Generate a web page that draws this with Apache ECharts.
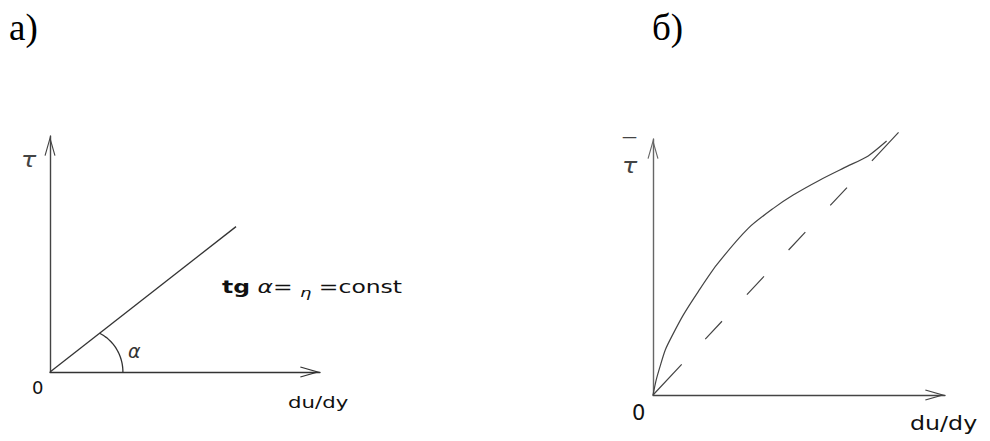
<!DOCTYPE html>
<html>
<head>
<meta charset="utf-8">
<title>tau - du/dy</title>
<script src="https://cdn.jsdelivr.net/npm/echarts@6/dist/echarts.min.js"></script>
<style>
html,body{margin:0;padding:0;background:#fff;}
#main{width:990px;height:441px;}
</style>
</head>
<body>
<div id="main"></div>
<script>
// a) straight line through the origin
var lineA = [[0, 0], [6.89, 6.16]];
// angle mark: centre x, centre y, radius at the line, radius at the axis (x units)
var arcA = [[0, 0, 2.33, 2.7]];
// b) flow curve
var curveX = [0, 0.11, 0.24, 0.42, 0.64, 1.04, 1.55, 2.18, 3.26, 4.12, 4.80, 5.72, 6.63, 7.37, 8.00];
var curveY = [0, 0.59, 1.11, 1.76, 2.28, 3.13, 4.04, 5.08, 6.51, 7.29, 7.81, 8.40, 8.92, 9.34, 9.92];
// b) dashed straight line
var dashB = [[0, 0], [8.42, 10.27]];
var axisMin = 0;
var axisMax = 10;

var ARROW = 'path://M5.5,0 L11,19.3 L9.9,19.7 L5.5,4.2 L1.1,19.7 L0,19.3 Z';
var SANS = '"DejaVu Sans"';

var Chart = {
	init:function(){
		this.chart = echarts.init(document.getElementById('main'), null, {renderer:'svg'});
		this.chart.setOption(this.options());
	},
	axis:function(idx, color){
		return {
			type:'value',
			gridIndex:idx,
			min:axisMin,
			max:axisMax,
			axisLine:{
				show:true,
				onZero:false,
				symbol:['none', ARROW],
				symbolSize:[11, 20],
				symbolOffset:[0, -10],   // tip of the arrow sits on the axis end
				lineStyle:{color:color, width:1.4}
			},
			axisTick:{show:false},
			axisLabel:{show:false},
			splitLine:{show:false}
		};
	},
	text:function(str, x, y, size, opt){
		opt = opt || {};
		return {
			type:'text',
			x:x,
			y:y,
			scaleX:opt.sx || 1,
			silent:true,
			style:{
				text:str,
				font:(opt.style || 'normal') + ' ' + size + 'px ' + (opt.family || SANS),
				fill:opt.color || '#111',
				align:'left',
				verticalAlign:'middle',
				rich:opt.rich
			}
		};
	},
	options:function(){
		var that = this;
		var curve = [];
		for (var i = 0; i < curveX.length; i++) {
			curve.push([curveX[i], curveY[i]]);
		}
		return {
			backgroundColor:'#fff',
			animation:false,
			grid:[
				{left:50, top:136, width:270, height:236},
				{left:653, top:139, width:292, height:256}
			],
			xAxis:[that.axis(0, '#333'), that.axis(1, '#444')],
			yAxis:[that.axis(0, '#444'), that.axis(1, '#666')],
			series:[
				{
					type:'line',
					xAxisIndex:0,
					yAxisIndex:0,
					data:lineA,
					symbol:'none',
					silent:true,
					clip:false,
					lineStyle:{color:'#333', width:1.3}
				},
				{
					type:'custom',
					xAxisIndex:0,
					yAxisIndex:0,
					data:arcA,
					silent:true,
					renderItem:function(params, api){
						var c = api.coord([api.value(0), api.value(1)]);
						var unit = api.size([1, 0])[0];
						var r1 = api.value(2) * unit;
						var r2 = api.value(3) * unit;
						var end = api.coord(lineA[1]);
						var theta = Math.atan2(c[1] - end[1], end[0] - c[0]);
						var pts = [];
						for (var k = 0; k <= 30; k++) {
							var t = k / 30;
							var r = r2 - (r2 - r1) * t * t;
							pts.push([c[0] + r * Math.cos(theta * t), c[1] - r * Math.sin(theta * t)]);
						}
						return {
							type:'polyline',
							shape:{points:pts},
							style:{stroke:'#333', fill:'none', lineWidth:1.3}
						};
					}
				},
				{
					type:'line',
					xAxisIndex:1,
					yAxisIndex:1,
					data:curve,
					symbol:'none',
					silent:true,
					clip:false,
					smooth:0.25,
					lineStyle:{color:'#444', width:1.2}
				},
				{
					type:'line',
					xAxisIndex:1,
					yAxisIndex:1,
					data:dashB,
					symbol:'none',
					silent:true,
					clip:false,
					lineStyle:{
						color:'#444',
						width:1.2,
						type:[42, 34.5, 24.5, 36.5, 25, 36, 24.5, 36.5, 24.5, 36.5, 39, 60]
					}
				}
			],
			graphic:[
				that.text('а)', 9, 27, 37, {family:'"Liberation Serif"', color:'#000'}),
				that.text('б)', 652, 27, 37, {family:'"Liberation Serif"', color:'#000'}),
				// a)
				that.text('τ', 21, 160, 22, {style:'oblique', sx:1.15, color:'#444'}),
				that.text('α', 128, 351, 19, {style:'oblique', color:'#333'}),
				that.text('0', 32, 387, 18, {}),
				that.text('du/dy', 288, 402, 16, {sx:1.33}),
				that.text('{b|tg} {i|α}= {e|η} =const', 222, 287, 17, {
					sx:1.38,
					rich:{
						b:{fontWeight:'bold', fontSize:17, fontFamily:'DejaVu Sans'},
						i:{fontStyle:'oblique', fontSize:17, fontFamily:'DejaVu Sans'},
						e:{fontStyle:'oblique', fontSize:13, fontFamily:'DejaVu Sans', padding:[11, 0, 0, 0]}
					}
				}),
				// b)
				that.text('—', 622, 137, 15, {color:'#444'}),
				that.text('τ', 622, 166, 22, {style:'oblique', sx:1.15, color:'#444'}),
				that.text('0', 632, 413, 21, {}),
				that.text('du/dy', 910, 423, 19, {sx:1.25})
			]
		};
	}
};

Chart.init();
</script>
</body>
</html>
